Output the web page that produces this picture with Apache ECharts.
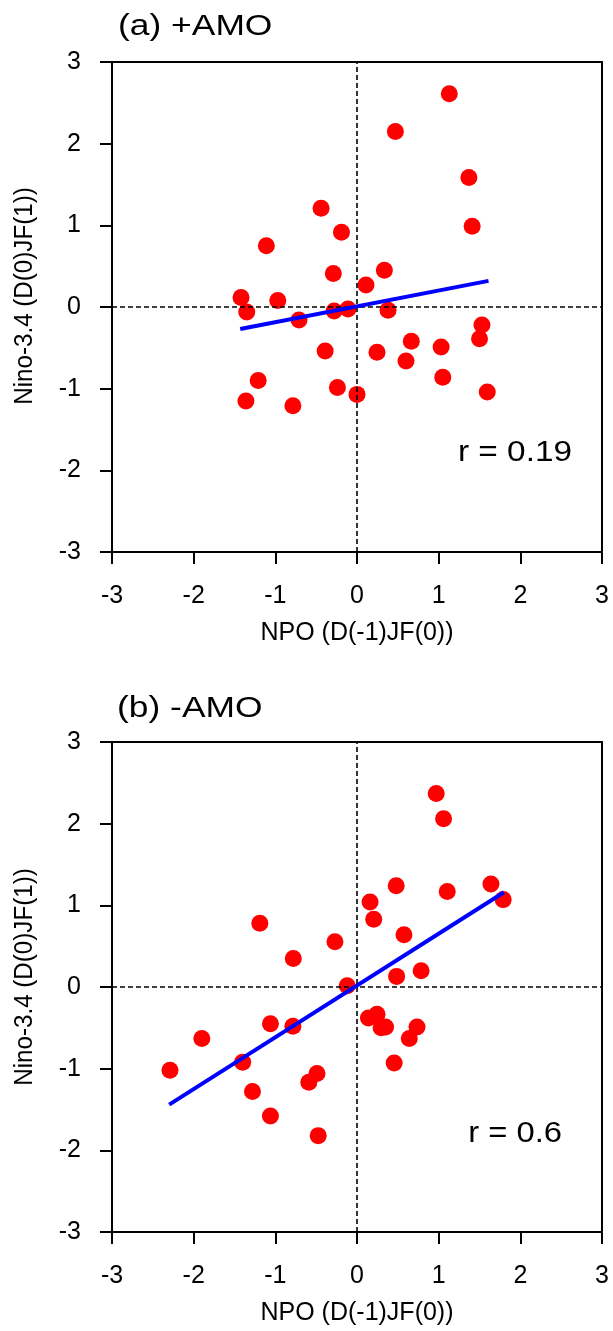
<!DOCTYPE html>
<html>
<head>
<meta charset="utf-8">
<script src="https://cdn.jsdelivr.net/npm/echarts@6/dist/echarts.min.js"></script>
<style>
html,body{margin:0;padding:0;background:#fff;}
#main{width:613px;height:1331px;}
</style>
</head>
<body>
<div id="main"></div>
<script>
// Panel (a) +AMO
var npoA  = [1.13, 0.47, 1.37, 1.41, -0.44, -0.19, -1.11, -0.29, 0.335, 0.11, -1.42, -0.97,
             -1.35, -0.28, -0.11, 0.38, -0.71, 1.53, 1.50, 0.665, 1.03, -0.39, 0.245, 0.60,
             1.05, -1.21, -0.24, 0.0, 1.595, -1.36, -0.785];
var ninoA = [2.61, 2.15, 1.585, 0.99, 1.21, 0.915, 0.75, 0.41, 0.45, 0.27, 0.115, 0.08,
             -0.06, -0.05, -0.025, -0.04, -0.16, -0.22, -0.39, -0.42, -0.49, -0.54, -0.555, -0.66,
             -0.86, -0.90, -0.985, -1.07, -1.04, -1.15, -1.21];
var fitAx = [-1.43, 1.61];
var fitAy = [-0.27, 0.32];

// Panel (b) -AMO
var npoB  = [0.97, 1.06, 0.48, 1.64, 1.105, 1.79, 0.16, 0.205, -1.19, 0.575, -0.27, -0.78,
             0.485, 0.785, -0.12, 0.14, 0.245, 0.295, 0.35, 0.735, 0.64, 0.455, -1.06, -0.785,
             -1.90, -1.40, -2.29, -0.49, -0.59, -1.28, -1.06, -0.475];
var ninoB = [2.37, 2.06, 1.24, 1.26, 1.17, 1.07, 1.04, 0.83, 0.78, 0.64, 0.555, 0.35,
             0.13, 0.20, 0.016, -0.38, -0.335, -0.50, -0.49, -0.49, -0.63, -0.93, -0.45, -0.48,
             -0.63, -0.92, -1.02, -1.06, -1.165, -1.28, -1.58, -1.82];
var fitBx = [-2.30, 1.80];
var fitBy = [-1.44, 1.16];

var axisMin = -3, axisMax = 3, axisStep = 1;
var titles = ['(a) +AMO', '(b) -AMO'];
var rLabels = ['r = 0.19', 'r = 0.6'];
var xName = 'NPO (D(-1)JF(0))';
var yName = 'Nino-3.4 (D(0)JF(1))';

function pairs(xs, ys){ return xs.map(function(x,i){ return [x, ys[i]]; }); }

var FONT = '"Liberation Sans", Arial, Helvetica, sans-serif';
var grids = [
  {left:112, top:62, width:490, height:490},
  {left:112, top:742, width:490, height:490}
];

function xAxisFor(i){
  return {
    gridIndex:i, type:'value', min:axisMin, max:axisMax, interval:axisStep,
    name:xName, nameLocation:'middle', nameGap:69,
    nameTextStyle:{fontSize:25, color:'#000', fontFamily:FONT},
    axisLine:{show:true, onZero:false, lineStyle:{color:'#000', width:2}},
    axisTick:{show:true, length:12, lineStyle:{color:'#000', width:2}},
    axisLabel:{fontSize:25, color:'#000', margin:32, fontFamily:FONT, formatter:function(v){return String(v);}},
    splitLine:{show:false}
  };
}
function yAxisFor(i){
  return {
    gridIndex:i, type:'value', min:axisMin, max:axisMax, interval:axisStep,
    axisLine:{show:true, onZero:false, lineStyle:{color:'#000', width:2}},
    axisTick:{show:true, length:12, lineStyle:{color:'#000', width:2}},
    axisLabel:{fontSize:25, color:'#000', margin:31, fontFamily:FONT, formatter:function(v){return String(v);}},
    splitLine:{show:false}
  };
}

var dashStyle = {color:'#000', width:1.6, type:[5,3]};
function scatterFor(i, xs, ys){
  return {
    type:'scatter', xAxisIndex:i, yAxisIndex:i, data:pairs(xs, ys),
    symbol:'circle', symbolSize:17, itemStyle:{color:'#ff0000', opacity:1},
    z:3,
    markLine:{
      silent:true, symbol:['none','none'], label:{show:false},
      lineStyle:dashStyle, animation:false,
      data:[{xAxis:0},{yAxis:0}]
    }
  };
}
function fitFor(i, xs, ys){
  return {
    type:'line', xAxisIndex:i, yAxisIndex:i, data:pairs(xs, ys),
    symbol:'none', lineStyle:{color:'#0000ff', width:4}, z:5
  };
}

var option = {
  animation:false,
  backgroundColor:'#fff',
  grid: grids.map(function(g){
    return Object.assign({show:true, borderColor:'#000', borderWidth:2, backgroundColor:'transparent',
                          containLabel:false, outerBoundsMode:'none'}, g);
  }),
  xAxis:[xAxisFor(0), xAxisFor(1)],
  yAxis:[yAxisFor(0), yAxisFor(1)],
  series:[
    scatterFor(0, npoA, ninoA), fitFor(0, fitAx, fitAy),
    scatterFor(1, npoB, ninoB), fitFor(1, fitBx, fitBy)
  ],
  graphic:[
    {type:'text', x:118, y:27, scaleX:1.18, style:{text:titles[0], font:'30px '+FONT, fill:'#000', textAlign:'left', textVerticalAlign:'middle'}},
    {type:'text', x:117, y:709, scaleX:1.18, style:{text:titles[1], font:'30px '+FONT, fill:'#000', textAlign:'left', textVerticalAlign:'middle'}},
    {type:'text', x:572, y:453, scaleX:1.15, style:{text:rLabels[0], font:'29px '+FONT, fill:'#000', textAlign:'right', textVerticalAlign:'middle'}},
    {type:'text', x:562, y:1134, scaleX:1.13, style:{text:rLabels[1], font:'29px '+FONT, fill:'#000', textAlign:'right', textVerticalAlign:'middle'}},
    {type:'text', x:25, y:296, rotation:Math.PI/2, scaleX:0.93, style:{text:yName, font:'26px '+FONT, fill:'#000', textAlign:'center', textVerticalAlign:'middle'}},
    {type:'text', x:25, y:977, rotation:Math.PI/2, scaleX:0.93, style:{text:yName, font:'26px '+FONT, fill:'#000', textAlign:'center', textVerticalAlign:'middle'}}
  ]
};

var chart = echarts.init(document.getElementById('main'), null, {renderer:'canvas'});
chart.setOption(option);
</script>
</body>
</html>
